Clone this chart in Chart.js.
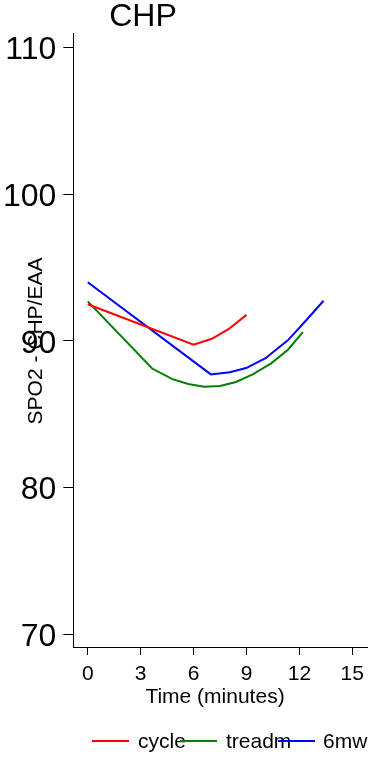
<!DOCTYPE html>
<html>
<head>
<meta charset="utf-8">
<script src="https://cdn.jsdelivr.net/npm/chart.js@4"></script>
<style>
  html, body { margin: 0; padding: 0; background: #fff; }
  #wrap { width: 368px; height: 760px; }
</style>
</head>
<body>
<div id="wrap"><canvas id="chp"></canvas></div>
<script>
// data
var seriesNames = ["cycle", "treadm", "6mw"];
var seriesColors = ["#ff0000", "#008000", "#0000ff"];

var cycleTime = [0, 6, 7.03, 7.98, 9];
var cycleSpo2 = [92.5, 89.75, 90.15, 90.8, 91.78];

var treadmTime = [0, 3.65, 4.8, 5.7, 6.6, 7.5, 8.4, 9.35, 10.4, 11.35, 12.2];
var treadmSpo2 = [92.7, 88.12, 87.4, 87.06, 86.88, 86.93, 87.2, 87.72, 88.47, 89.4, 90.6];

var mwTime = [0, 6.98, 8.05, 8.98, 10.08, 11.36, 12.45, 13.37];
var mwSpo2 = [94.0, 87.72, 87.87, 88.15, 88.82, 90.06, 91.5, 92.74];

var xTicks = [0, 3, 6, 9, 12, 15];
var yTicks = [70, 80, 90, 100, 110];

function pts(xs, ys) {
  return xs.map(function (x, i) { return { x: x, y: ys[i] }; });
}
var allData = [pts(cycleTime, cycleSpo2), pts(treadmTime, treadmSpo2), pts(mwTime, mwSpo2)];

var FONT = "'Liberation Sans', Arial, sans-serif";

// titres et légende dessinés à la main (ils se chevauchent comme dans l'original)
var textPlugin = {
  id: "textPlugin",
  afterDraw: function (chart) {
    var ctx = chart.ctx;
    ctx.save();
    ctx.fillStyle = "#000";

    // titre
    ctx.font = "32px " + FONT;
    ctx.textAlign = "center";
    ctx.textBaseline = "alphabetic";
    ctx.fillText("CHP", 143, 26);

    // axe x
    ctx.font = "21px " + FONT;
    ctx.fillText("Time (minutes)", 215, 703);

    // axe y
    ctx.save();
    ctx.translate(36, 341);
    ctx.rotate(-Math.PI / 2);
    ctx.textBaseline = "middle";
    ctx.font = "21px " + FONT;
    ctx.fillText("SPO2 - CHP/EAA", 0, 0);
    ctx.restore();

    // légende
    var lineX = [92, 180, 278];
    var textX = [138, 226, 323];
    ctx.textAlign = "left";
    ctx.font = "21px " + FONT;
    for (var i = 0; i < seriesNames.length; i++) {
      ctx.strokeStyle = seriesColors[i];
      ctx.lineWidth = 2;
      ctx.beginPath();
      ctx.moveTo(lineX[i], 741);
      ctx.lineTo(lineX[i] + 37, 741);
      ctx.stroke();
      ctx.fillStyle = "#000";
      ctx.fillText(seriesNames[i], textX[i], 748);
    }
    ctx.restore();
  }
};

new Chart(document.getElementById("chp").getContext("2d"), {
  type: "line",
  data: {
    datasets: allData.map(function (d, i) {
      return {
        label: seriesNames[i],
        data: d,
        borderColor: seriesColors[i],
        backgroundColor: seriesColors[i],
        borderWidth: 2,
        pointRadius: 0,
        tension: 0,
        fill: false
      };
    })
  },
  options: {
    responsive: true,
    maintainAspectRatio: false,
    animation: false,
    events: [],
    layout: { padding: { top: 33, right: 0, left: 0, bottom: 0 } },
    plugins: {
      legend: { display: false },
      title: { display: false },
      tooltip: { enabled: false }
    },
    scales: {
      x: {
        type: "linear",
        min: -0.82,
        max: 15.89,
        afterBuildTicks: function (s) { s.ticks = xTicks.map(function (v) { return { value: v }; }); },
        afterFit: function (s) { s.height = 113; s.paddingLeft = 0; s.paddingRight = 0; },
        grid: { display: true, drawOnChartArea: false, drawTicks: true, tickLength: 8, color: "#000", lineWidth: 1 },
        border: { display: true, color: "#000", width: 1 },
        ticks: { color: "#000", font: { family: FONT, size: 21 }, padding: 7, maxRotation: 0 }
      },
      y: {
        type: "linear",
        min: 69.13,
        max: 111.0,
        afterBuildTicks: function (s) { s.ticks = yTicks.map(function (v) { return { value: v }; }); },
        afterFit: function (s) { s.width = 73.3; s.paddingTop = 0; s.paddingBottom = 0; },
        grid: { display: true, drawOnChartArea: false, drawTicks: true, tickLength: 10, color: "#000", lineWidth: 1 },
        border: { display: true, color: "#000", width: 1 },
        ticks: { color: "#000", font: { family: FONT, size: 32 }, padding: 7, labelOffset: 3 }
      }
    }
  },
  plugins: [textPlugin]
});
</script>
</body>
</html>
